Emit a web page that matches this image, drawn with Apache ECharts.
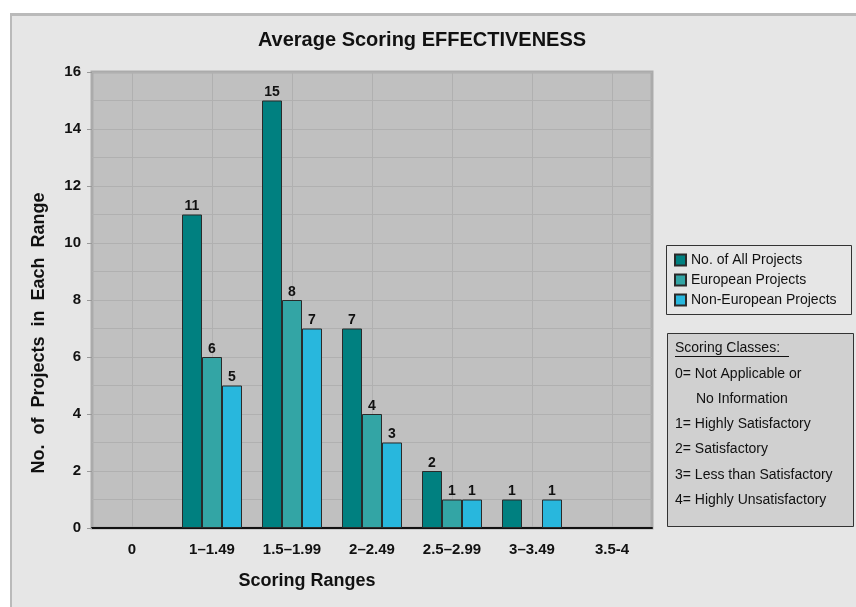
<!DOCTYPE html>
<html>
<head>
<meta charset="utf-8">
<script src="https://cdn.jsdelivr.net/npm/echarts@6/dist/echarts.min.js"></script>
<style>html,body{margin:0;padding:0;background:#fff}#c{width:856px;height:607px}</style>
</head>
<body>
<div id="c"></div>
<script>
const categories = ['0', '1\u20131.49', '1.5\u20131.99', '2\u20132.49', '2.5\u20132.99', '3\u20133.49', '3.5-4'];
const allProjects = [0, 11, 15, 7, 2, 1, 0];
const europeanProjects = [0, 6, 8, 4, 1, 0, 0];
const nonEuropeanProjects = [0, 5, 7, 3, 1, 1, 0];
const seriesNames = ['No. of All Projects', 'European Projects', 'Non-European Projects'];
const yTicks = [0, 2, 4, 6, 8, 10, 12, 14, 16];
const classLines = ['0= Not Applicable or', 'No Information', '1= Highly Satisfactory', '2= Satisfactory', '3= Less than Satisfactory', '4= Highly Unsatisfactory'];

const FONT = '"Liberation Sans", Arial, sans-serif';
const colors = ['#008080', '#33a5a5', '#28b7dd'];

function mkSeries(name, data, i) {
  return {
    name: name, type: 'bar', data: data.map(v => (v === 0 ? null : v)),
    barWidth: 20, barGap: '0%',
    itemStyle: { color: colors[i], borderColor: '#2a2a2a', borderWidth: 1 },
    label: {
      show: true, position: 'top', distance: 1,
      color: '#111', fontFamily: FONT, fontWeight: 'bold', fontSize: 14
    }
  };
}

const chart = echarts.init(document.getElementById('c'), null, { renderer: 'canvas' });
const classTexts = classLines.map((t, i) => ({
  type: 'text',
  x: i === 1 ? 696 : 675,
  y: [374, 399, 424, 449, 475, 500][i],
  style: { text: t, font: '14px ' + FONT, fill: '#111', textVerticalAlign: 'middle' }
}));

chart.setOption({
  backgroundColor: '#e6e6e6',
  animation: false,
  textStyle: { fontFamily: FONT },
  grid: { left: 92, top: 72, right: 204, bottom: 79, show: true, backgroundColor: '#c0c0c0', borderColor: '#ababab', borderWidth: 3 },
  legend: {
    orient: 'vertical', left: 674, top: 253,
    data: seriesNames,
    icon: 'rect', itemWidth: 11, itemHeight: 11, itemGap: 6,
    textStyle: { fontFamily: FONT, fontSize: 14, color: '#111', lineHeight: 14 },
    padding: 0
  },
  xAxis: {
    type: 'category', data: categories,
    axisLine: { lineStyle: { color: '#111', width: 2 } },
    axisTick: { alignWithLabel: true, length: 5, lineStyle: { color: '#333' } },
    axisLabel: { margin: 14, fontFamily: FONT, fontWeight: 'bold', fontSize: 15, color: '#111' },
    splitLine: { show: true, alignWithLabel: true, lineStyle: { color: '#b0b0b0', width: 1 } }
  },
  yAxis: {
    type: 'value', min: 0, max: 16, interval: 2,
    axisLine: { show: false },
    axisTick: { show: true, length: 5, lineStyle: { color: '#999' } },
    axisLabel: { margin: 11, fontFamily: FONT, fontWeight: 'bold', fontSize: 15, color: '#111',
      formatter: v => (yTicks.indexOf(v) >= 0 ? String(v) : '') },
    splitLine: { show: true, lineStyle: { color: '#b0b0b0', width: 1 } },
    minorTick: { show: false, splitNumber: 2 },
    minorSplitLine: { show: true, lineStyle: { color: '#b0b0b0', width: 1 } }
  },
  series: [
    mkSeries(seriesNames[0], allProjects, 0),
    mkSeries(seriesNames[1], europeanProjects, 1),
    mkSeries(seriesNames[2], nonEuropeanProjects, 2)
  ],
  graphic: [
    { type: 'rect', z: -10, shape: { x: 0, y: 0, width: 856, height: 13 }, style: { fill: '#ffffff' }, silent: true },
    { type: 'rect', z: -10, shape: { x: 10, y: 13, width: 846, height: 3 }, style: { fill: '#bababa' }, silent: true },
    { type: 'rect', z: -10, shape: { x: 10, y: 13, width: 2, height: 594 }, style: { fill: '#bababa' }, silent: true },
    { type: 'rect', z: -10, shape: { x: 0, y: 13, width: 10, height: 594 }, style: { fill: '#ffffff' }, silent: true },
    { type: 'text', x: 422, y: 40, style: { text: 'Average Scoring EFFECTIVENESS', font: 'bold 20px ' + FONT, fill: '#111', textAlign: 'center', textVerticalAlign: 'middle' } },
    { type: 'text', x: 39, y: 333, rotation: Math.PI / 2, style: { text: 'No.  of  Projects  in  Each  Range', font: 'bold 18px ' + FONT, fill: '#111', textAlign: 'center', textVerticalAlign: 'middle' } },
    { type: 'text', x: 307, y: 581, style: { text: 'Scoring Ranges', font: 'bold 18px ' + FONT, fill: '#111', textAlign: 'center', textVerticalAlign: 'middle' } },
    { type: 'rect', z: -1, shape: { x: 666.5, y: 245.5, width: 185, height: 69 }, style: { fill: '#e6e6e6', stroke: '#333', lineWidth: 1 } },
    { type: 'rect', z: -1, shape: { x: 667.5, y: 333.5, width: 186, height: 193 }, style: { fill: '#d0d0d0', stroke: '#333', lineWidth: 1 } },
    { type: 'text', x: 675, y: 348, style: { text: 'Scoring Classes:', font: '14px ' + FONT, fill: '#111', textVerticalAlign: 'middle' } },
    { type: 'line', shape: { x1: 675, y1: 356.5, x2: 789, y2: 356.5 }, style: { stroke: '#111', lineWidth: 1 } }
  ].concat(classTexts)
});
</script>
</body>
</html>
